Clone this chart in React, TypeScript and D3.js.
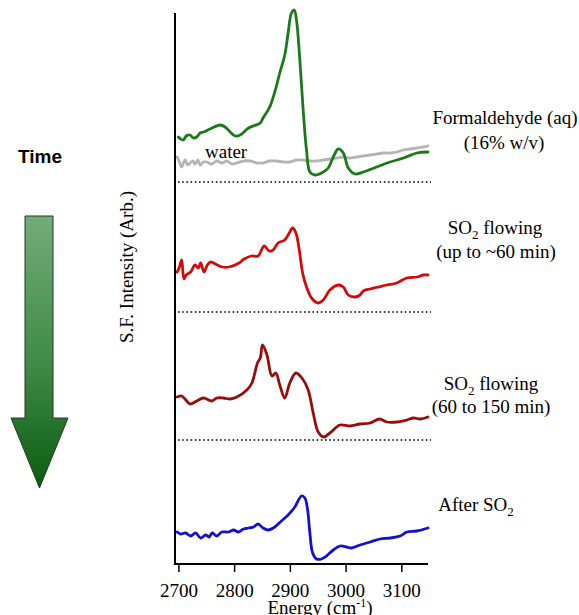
import React from "react";
import * as d3 from "d3";

// Energy axis (cm^-1) and per-trace intensities (arb. units above each trace's dotted baseline)
const formaldehydeEnergy = [2699, 2703, 2708, 2713, 2720, 2726, 2732, 2738, 2744, 2756, 2774, 2783, 2792, 2801, 2810, 2825, 2846, 2851, 2863, 2872, 2881, 2890, 2896, 2902, 2907, 2911, 2917, 2923, 2929, 2935, 2944, 2959, 2968, 2977, 2986, 2995, 3004, 3016, 3031, 3055, 3079, 3103, 3127, 3147];
const formaldehydeValue = [45, 43, 42, 46, 47, 44, 45, 49, 50, 53, 57, 55, 50, 46, 47, 54, 59, 64, 75, 90, 109, 127, 149, 169, 172, 162, 122, 72, 32, 10, 7, 10, 14, 25, 33, 29, 14, 8, 10, 15, 20, 24, 29, 30];

const waterEnergy = [2697, 2701, 2705, 2711, 2716, 2720, 2725, 2729, 2734, 2738, 2744, 2750, 2759, 2768, 2777, 2786, 2795, 2804, 2816, 2828, 2840, 2851, 2863, 2875, 2887, 2899, 2911, 2923, 2935, 2947, 2959, 2971, 2983, 2995, 3007, 3019, 3031, 3043, 3055, 3067, 3079, 3091, 3103, 3115, 3127, 3139, 3147];
const waterValue = [25, 20, 15, 22, 17, 19, 21, 18, 22, 17, 20, 20, 18, 21, 19, 21, 18, 19, 21, 21, 19, 19, 21, 21, 20, 20, 22, 22, 21, 21, 22, 23, 24, 25, 24, 25, 26, 27, 28, 29, 29, 30, 32, 33, 34, 35, 36];

const earlySO2Energy = [2697, 2701, 2705, 2709, 2713, 2721, 2729, 2735, 2739, 2745, 2751, 2757, 2769, 2778, 2790, 2808, 2817, 2830, 2842, 2853, 2862, 2869, 2878, 2890, 2898, 2904, 2910, 2916, 2922, 2929, 2938, 2950, 2959, 2971, 2986, 2995, 3004, 3016, 3025, 3031, 3043, 3058, 3073, 3091, 3109, 3127, 3139, 3147];
const earlySO2Value = [40, 45, 52, 33, 37, 40, 47, 44, 49, 40, 47, 50, 47, 45, 45, 49, 53, 56, 56, 66, 61, 62, 69, 72, 79, 84, 79, 62, 39, 25, 14, 9, 12, 22, 27, 25, 17, 15, 17, 21, 23, 25, 27, 29, 34, 35, 37, 37];

const lateSO2Energy = [2697, 2705, 2711, 2720, 2732, 2744, 2759, 2768, 2780, 2792, 2804, 2822, 2831, 2841, 2846, 2850, 2858, 2867, 2874, 2881, 2890, 2899, 2910, 2922, 2932, 2941, 2950, 2960, 2971, 2989, 3007, 3025, 3043, 3060, 3073, 3091, 3109, 3121, 3133, 3147];
const lateSO2Value = [43, 44, 41, 36, 39, 42, 39, 42, 42, 41, 43, 50, 57, 77, 82, 95, 85, 64, 67, 55, 42, 57, 67, 61, 50, 27, 8, 3, 7, 15, 14, 16, 17, 21, 18, 18, 20, 22, 21, 23];

const afterSO2Energy = [2697, 2703, 2712, 2721, 2730, 2739, 2748, 2754, 2760, 2768, 2777, 2789, 2798, 2807, 2816, 2825, 2834, 2842, 2851, 2860, 2872, 2884, 2896, 2908, 2920, 2926, 2931, 2935, 2940, 2947, 2956, 2965, 2977, 2989, 3001, 3010, 3025, 3043, 3061, 3079, 3097, 3109, 3127, 3147];
const afterSO2Value = [32, 30, 31, 28, 31, 26, 29, 27, 31, 28, 32, 32, 34, 32, 35, 36, 37, 40, 36, 34, 37, 43, 49, 57, 68, 66, 54, 31, 11, 5, 5, 8, 14, 18, 17, 16, 19, 22, 25, 26, 28, 32, 33, 36];

// Vertical offset of each spectrum (arb. units)
const traceOffsets = { formaldehyde: 382, earlySO2: 252, lateSO2: 124, afterSO2: 0 };
const baselineOffsets = [382, 252, 124];

const xTicks = [2700, 2800, 2900, 3000, 3100];

const W = 579;
const H = 615;
const axisLeft = 175;
const axisRight = 428;
const axisTop = 13;
const axisBottom = 564;

const serif = "'Liberation Serif', 'Times New Roman', serif";

export default function App() {
  const x = d3.scaleLinear().domain([2693, 3147]).range([axisLeft, axisRight]);
  const y = d3.scaleLinear().domain([0, 551]).range([axisBottom, axisTop]);

  const path = (es: number[], vs: number[], off: number) =>
    d3
      .line<number>()
      .x((_, i) => x(es[i]))
      .y((v) => y(v + off))
      .curve(d3.curveCatmullRom.alpha(0.5))(vs) || "";

  const traces = [
    { e: waterEnergy, v: waterValue, off: traceOffsets.formaldehyde, color: "#b4b4b4" },
    { e: formaldehydeEnergy, v: formaldehydeValue, off: traceOffsets.formaldehyde, color: "#1a7a1a" },
    { e: earlySO2Energy, v: earlySO2Value, off: traceOffsets.earlySO2, color: "#d40a0a" },
    { e: lateSO2Energy, v: lateSO2Value, off: traceOffsets.lateSO2, color: "#990c0c" },
    { e: afterSO2Energy, v: afterSO2Value, off: traceOffsets.afterSO2, color: "#1212cc" },
  ];

  const sub = (t: string) => (
    <tspan fontSize={13} dy={5}>{t}</tspan>
  );

  return (
    <svg
      width={W}
      height={H}
      style={{ position: "absolute", left: 0, top: 0, background: "#fff" }}
      fontFamily={serif}
    >
      <defs>
        <linearGradient id="timeGrad" x1="0" y1="0" x2="0" y2="1">
          <stop offset="0%" stopColor="#72ab7a" />
          <stop offset="55%" stopColor="#3f8a46" />
          <stop offset="100%" stopColor="#0b5c10" />
        </linearGradient>
      </defs>

      {/* Time arrow */}
      <text x={40} y={163} textAnchor="middle" fontFamily="'Liberation Sans', Arial, sans-serif" fontWeight="bold" fontSize={19}>
        Time
      </text>
      <path
        d="M25,216 L53,216 L53,418 L68,418 L39.5,488 L11,418 L25,418 Z"
        fill="url(#timeGrad)"
        stroke="#203a20"
        strokeWidth={1}
      />

      {/* Y axis title */}
      <text transform="translate(133,267) rotate(-90)" textAnchor="middle" fontSize={19}>
        S.F. Intensity (Arb.)
      </text>

      {/* Axes */}
      <line x1={axisLeft} x2={axisLeft} y1={axisTop} y2={axisBottom + 1} stroke="#000" strokeWidth={2} />
      <line x1={axisLeft} x2={axisRight} y1={axisBottom} y2={axisBottom} stroke="#000" strokeWidth={2} />
      {xTicks.map((t) => (
        <g key={t}>
          <line x1={x(t)} x2={x(t)} y1={axisBottom} y2={axisBottom + 8} stroke="#000" strokeWidth={1.5} />
          <text x={x(t)} y={597} textAnchor="middle" fontSize={19}>
            {t}
          </text>
        </g>
      ))}
      <text x={320} y={614} textAnchor="middle" fontSize={19}>
        Energy (cm<tspan fontSize={12} dy={-7}>-1</tspan><tspan dy={7}>)</tspan>
      </text>

      {/* Dotted baselines */}
      {baselineOffsets.map((b) => (
        <line
          key={b}
          x1={178}
          x2={431}
          y1={y(b)}
          y2={y(b)}
          stroke="#000"
          strokeWidth={1.6}
          strokeDasharray="1.6,2.6"
        />
      ))}

      {/* Spectra */}
      {traces.map((t, i) => (
        <path
          key={i}
          d={path(t.e, t.v, t.off)}
          fill="none"
          stroke={t.color}
          strokeWidth={2.8}
          strokeLinejoin="round"
          strokeLinecap="round"
        />
      ))}

      <text x={205} y={158} fontSize={19}>water</text>

      {/* Trace labels */}
      <g fontSize={19} textAnchor="middle">
        <text x={505} y={124}>Formaldehyde (aq)</text>
        <text x={504} y={149}>(16% w/v)</text>
        <text x={495} y={234}>SO{sub("2")}<tspan dy={-5}> flowing</tspan></text>
        <text x={496} y={258}>(up to ~60 min)</text>
        <text x={491} y={390}>SO{sub("2")}<tspan dy={-5}> flowing</tspan></text>
        <text x={491} y={413}>(60 to 150 min)</text>
        <text x={476} y={511}>After SO{sub("2")}</text>
      </g>
    </svg>
  );
}
